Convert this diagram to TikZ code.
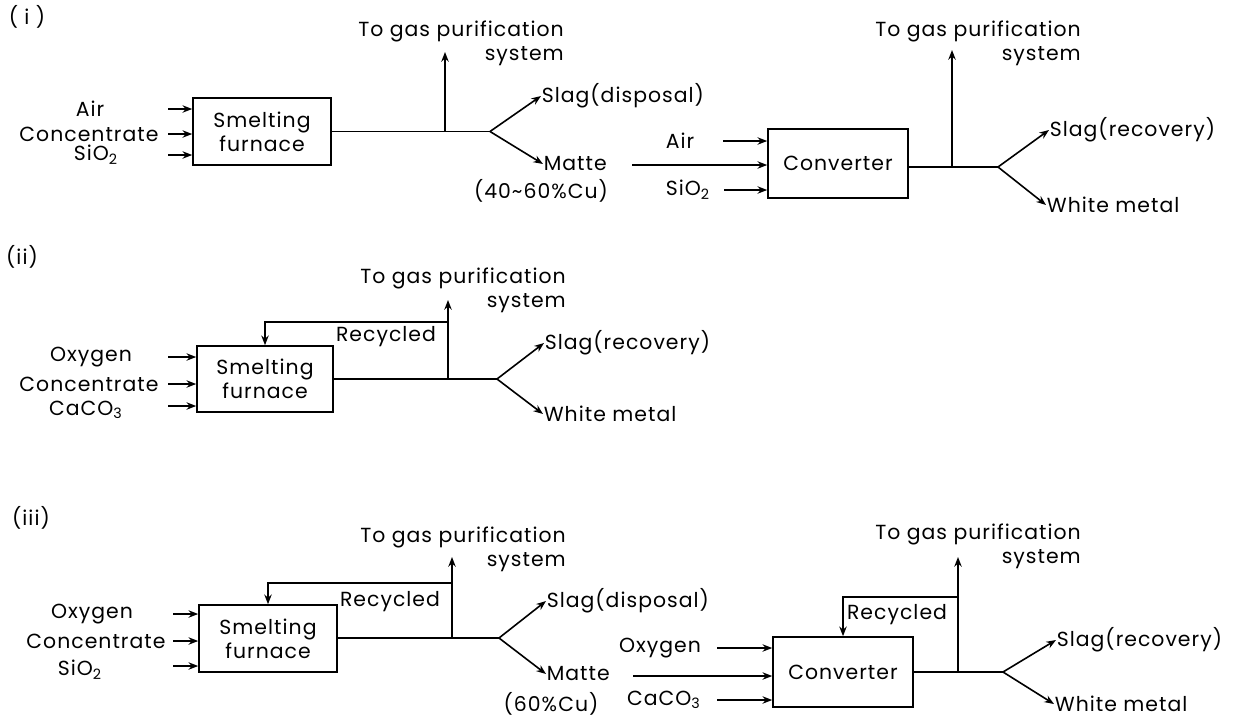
\documentclass[tikz,border=0pt]{standalone}
\usepackage{fontspec}
\setmainfont{Poppins}[LetterSpace=5]
\usetikzlibrary{arrows.meta,positioning}
\begin{document}
\begin{tikzpicture}[x=0.5pt,y=-0.5pt,line width=.8pt,
  box/.style={draw,minimum width=69pt,minimum height=33.5pt,align=center,inner sep=0pt,font=\fontsize{10.2}{12}\selectfont},
  lbl/.style={inner sep=0pt,font=\fontsize{10.2}{12}\selectfont},
  a/.style={-{Stealth[length=1.7mm,width=1.3mm]}}]
\useasboundingbox (0,0) rectangle (1245,718);
% (i)
\node[lbl] (t1) at (27,17) {( i )};
\node[box] (sf1) at (262,131.5) {Smelting\\furnace};
\node[lbl] (air1) at (90,109) {Air};
\node[lbl] (con1) at (89,134) {Concentrate};
\node[lbl] (sio1) at (96,155) {SiO\textsubscript{2}};
\foreach \y in {109,134,155} {\draw[a] (168,\y) -- (sf1.west |- 168,\y);}
\coordinate (b1) at (sf1.east -| 490,0);
\draw (sf1.east) -- (b1);
\draw[a] (b1 -| 445,0) -- (445,52);
\node[lbl,align=right] (gas1) at (461,43) {To gas purification\\system};
\node[lbl,anchor=west] (slag1) at (541,96) {Slag(disposal)};
\node[lbl,anchor=west] (mat1) at (543,164) {Matte};
\node[lbl] (pct1) at (541,191) {(40\textasciitilde60\%Cu)};
\draw[a] (b1) -- (slag1.west);
\draw[a] (b1) -- (mat1.west);
\node[box,minimum width=70pt,minimum height=34.5pt] (cv1) at (838,163.5) {Converter};
\node[lbl] (air1b) at (680,141) {Air};
\node[lbl] (sio1b) at (688,190) {SiO\textsubscript{2}};
\draw[a] (723,141) -- (cv1.west |- 723,141);
\draw[a] (632,165) -- (cv1.west |- 632,165);
\draw[a] (724,190) -- (cv1.west |- 724,190);
\coordinate (b2) at (998,167);
\draw (b2 -| cv1.east) -- (b2);
\draw[a] (952,167) -- (952,50);
\node[lbl,align=right] (gas2) at (978,43) {To gas purification\\system};
\node[lbl,anchor=west] (slag2) at (1049,130) {Slag(recovery)};
\node[lbl,anchor=west] (wm1) at (1046,205) {White metal};
\draw[a] (b2) -- (slag2.west);
\draw[a] (b2) -- (wm1.west);
% (ii)
\node[lbl] (t2) at (22,257) {(ii)};
\node[box,minimum width=68pt,minimum height=33pt] (sf2) at (265,379) {Smelting\\furnace};
\node[lbl] (oxy2) at (91,357) {Oxygen};
\node[lbl] (con2) at (89,384) {Concentrate};
\node[lbl] (cac2) at (86,410) {CaCO\textsubscript{3}};
\foreach \y in {357,384,406} {\draw[a] (168,\y) -- (sf2.west |- 168,\y);}
\coordinate (b3) at (497,379);
\draw (sf2.east) -- (b3);
\draw[a] (448,379) -- (448,300);
\draw[a] (448,322) -| (sf2.north);
\node[lbl] (rec2) at (386,337) {Recycled};
\node[lbl,align=right] (gas3) at (463,290) {To gas purification\\system};
\node[lbl,anchor=west] (slag3) at (544,343) {Slag(recovery)};
\node[lbl,anchor=west] (wm2) at (543,414) {White metal};
\draw[a] (b3) -- (slag3.west);
\draw[a] (b3) -- (wm2.west);
% (iii)
\node[lbl] (t3) at (31,518) {(iii)};
\node[box] (sf3) at (268,638.5) {Smelting\\furnace};
\node[lbl] (oxy3) at (92,614) {Oxygen};
\node[lbl] (con3) at (96,641) {Concentrate};
\node[lbl] (sio3) at (80,670) {SiO\textsubscript{2}};
\foreach \y in {614,641,666} {\draw[a] (173,\y) -- (sf3.west |- 173,\y);}
\coordinate (b4) at (499,638);
\draw (b4 -| sf3.east) -- (b4);
\draw[a] (452,638) -- (452,557);
\draw[a] (452,583) -| (sf3.north);
\node[lbl] (rec3) at (390,602) {Recycled};
\node[lbl,align=right] (gas4) at (463,549) {To gas purification\\system};
\node[lbl,anchor=west] (slag4) at (546,601) {Slag(disposal)};
\node[lbl,anchor=west] (mat3) at (546,674) {Matte};
\node[lbl] (pct3) at (551,704) {(60\%Cu)};
\draw[a] (b4) -- (slag4.west);
\draw[a] (b4) -- (mat3.west);
\node[box,minimum width=70pt,minimum height=35pt] (cv3) at (843,672) {Converter};
\node[lbl] (oxy3b) at (660,648) {Oxygen};
\node[lbl] (cac3) at (664,700) {CaCO\textsubscript{3}};
\draw[a] (717,648) -- (cv3.west |- 717,648);
\draw[a] (633,676) -- (cv3.west |- 633,676);
\draw[a] (717,700) -- (cv3.west |- 717,700);
\coordinate (b5) at (1003,672);
\draw (cv3.east) -- (b5);
\draw[a] (958,672) -- (958,557);
\draw[a] (958,597) -| (cv3.north);
\node[lbl] (rec4) at (897,615) {Recycled};
\node[lbl,align=right] (gas5) at (978,546) {To gas purification\\system};
\node[lbl,anchor=west] (slag5) at (1056,640) {Slag(recovery)};
\node[lbl,anchor=west] (wm3) at (1054,704) {White metal};
\draw[a] (b5) -- (slag5.west);
\draw[a] (b5) -- (wm3.west);
\end{tikzpicture}
\end{document}
